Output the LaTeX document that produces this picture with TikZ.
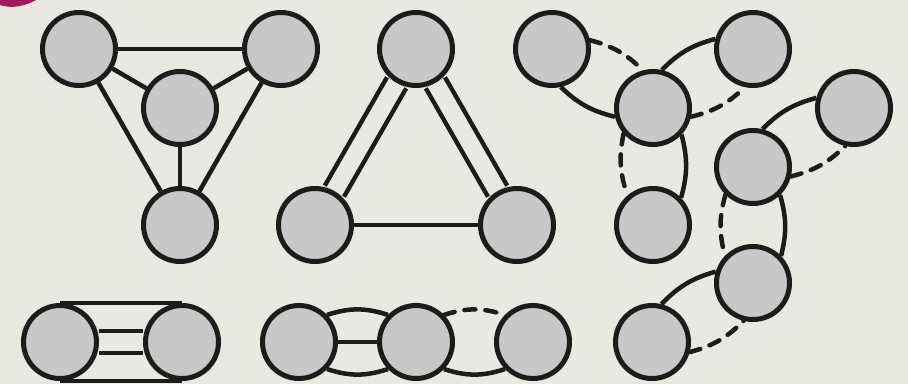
\documentclass[tikz,border=0pt]{standalone}
\usepackage{tikz}
\usetikzlibrary{backgrounds}

\definecolor{bgc}{HTML}{E9E9E4}
\definecolor{ink}{HTML}{1E1B1B}
\definecolor{nodegray}{HTML}{C8C8C8}
\definecolor{plum}{HTML}{9C1B5B}

\begin{document}
\begin{tikzpicture}[
  x=1pt, y=1pt,
  vert/.style={circle, draw=ink, fill=nodegray, line width=5pt, minimum size=73pt, inner sep=0pt},
  link/.style={draw=ink, line width=4.5pt},
  dashlink/.style={link, line cap=round, dash pattern=on 11pt off 10pt},
  twin/.style={link, double=bgc, double distance=17.5pt},
]
\useasboundingbox (0,0) rectangle (908,384);

\node[vert] (t1a) at (79,335)  {};
\node[vert] (t1b) at (281,335) {};
\node[vert] (t1c) at (180,276) {};
\node[vert] (t1d) at (180,159) {};

\node[vert] (t2a) at (416,335) {};
\node[vert] (t2b) at (315,159) {};
\node[vert] (t2c) at (517,159) {};

\node[vert] (gA) at (552,335) {};
\node[vert] (gB) at (653,276) {};
\node[vert] (gC) at (753,335) {};
\node[vert] (gD) at (653,159) {};
\node[vert] (gE) at (854,276) {};
\node[vert] (gF) at (753,217) {};
\node[vert] (gG) at (753,101) {};
\node[vert] (gH) at (652,42)  {};

\node[vert] (p1) at (60,42)  {};
\node[vert] (p2) at (182,42) {};

\node[vert] (q1) at (299,42) {};
\node[vert] (q2) at (416,42) {};
\node[vert] (q3) at (533,42) {};

\begin{pgfonlayer}{background}
\fill[bgc] (0,0) rectangle (908,384);
\fill[plum] (0,384) -- (0,379) .. controls (11,375) and (26,378) .. (36,384) -- cycle;

\draw[link] (t1a) -- (t1b);
\draw[link] (t1a) -- (t1c);
\draw[link] (t1b) -- (t1c);
\draw[link] (t1c) -- (t1d);
\draw[link] (t1a) -- (t1d);
\draw[link] (t1b) -- (t1d);

\draw[twin] (t2a) -- (t2b);
\draw[twin] (t2a) -- (t2c);
\draw[link] (t2b) -- (t2c);

\draw[dashlink] (gA.13)  to[bend left=15]  (gB.105);
\draw[link]     (gA.283) to[bend right=15] (gB.193);
\draw[link]     (gB.77)  to[bend left=15]  (gC.165);
\draw[dashlink] (gB.347) to[bend right=15] (gC.258);
\draw[dashlink] (gB.221) to[bend right=15] (gD.131);
\draw[link]     (gB.317) to[bend left=15]  (gD.44);
\draw[link]     (gF.76)  to[bend left=15]  (gE.165);
\draw[dashlink] (gF.346) to[bend right=15] (gE.257);
\draw[dashlink] (gF.225) to[bend right=15] (gG.136);
\draw[link]     (gF.314) to[bend left=15]  (gG.44);
\draw[link]     (gH.76)  to[bend left=15]  (gG.163);
\draw[dashlink] (gH.345) to[bend right=15] (gG.256);

\draw[link] (p1.north) -- (p2.north);
\draw[link] (p1.south) -- (p2.south);
\draw[twin] (p1) -- (p2);

\draw[link]     (q1.44)  to[bend left=18]  (q2.136);
\draw[link]     (q1.316) to[bend right=18] (q2.224);
\draw[link]     (q1) -- (q2);
\draw[dashlink] (q2.44)  to[bend left=18]  (q3.136);
\draw[link]     (q2.316) to[bend right=18] (q3.224);
\end{pgfonlayer}
\end{tikzpicture}
\end{document}
